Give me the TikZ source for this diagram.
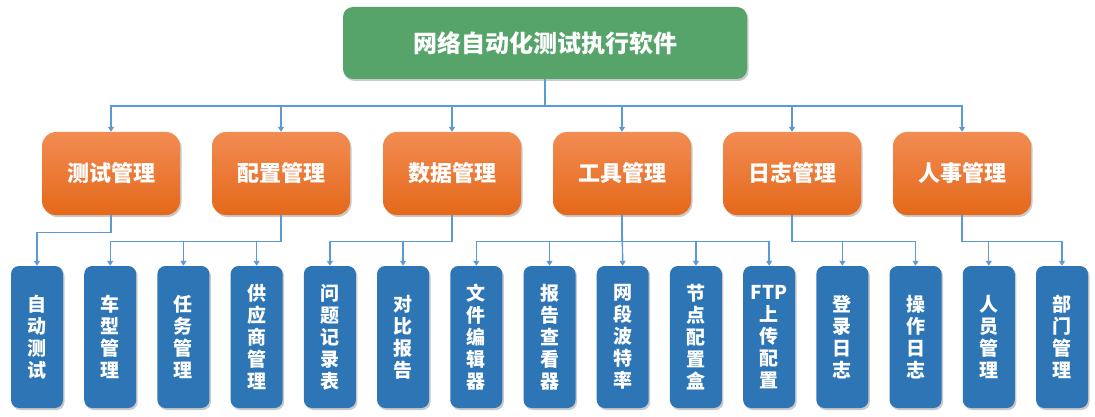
\documentclass[tikz,border=0pt]{standalone}
\usepackage{fontspec}
\newfontfamily\cjk{Noto Sans CJK SC}
\usetikzlibrary{shadows,arrows.meta}
\definecolor{topgreen}{HTML}{56A46A}
\definecolor{orangetop}{HTML}{F28C52}
\definecolor{orangebot}{HTML}{E4681A}
\definecolor{boxblue}{HTML}{2E75B6}
\definecolor{linkblue}{HTML}{5B9BD5}
\tikzset{
  shad/.style={drop shadow={opacity=0.35,shadow xshift=1.5pt,shadow yshift=-2pt,fill=black!60}},
  topbox/.style={shad,fill=topgreen,rounded corners=10pt,minimum width=404pt,minimum height=72pt,
    text=white,font=\cjk\bfseries\fontsize{24}{28}\selectfont,inner sep=0pt},
  midbox/.style={shad,top color=orangetop,bottom color=orangebot,rounded corners=14pt,
    minimum width=138pt,minimum height=83pt,text=white,font=\cjk\bfseries\fontsize{22}{26}\selectfont,inner sep=0pt},
  leafbox/.style={shad,fill=boxblue,rounded corners=8pt,minimum width=52pt,minimum height=142pt,
    text=white,align=center,font=\cjk\bfseries\fontsize{19}{22}\selectfont,inner sep=0pt},
  arr/.style={draw=linkblue,line width=1.4pt,-{Triangle[width=6pt,length=5pt]}}
}
\begin{document}
\begin{tikzpicture}[x=1pt,y=-1pt]
\useasboundingbox (0,0) rectangle (1095,417);
\node[topbox] (top) at (545,43) {网络自动化测试执行软件};
\node[midbox] (o1) at (111,173.5) {测试管理};
\node[midbox] (o2) at (281,173.5) {配置管理};
\node[midbox] (o3) at (452,173.5) {数据管理};
\node[midbox] (o4) at (622,173.5) {工具管理};
\node[midbox] (o5) at (792,173.5) {日志管理};
\node[midbox] (o6) at (962,173.5) {人事管理};
\foreach \t [count=\i from 0] in {自\\动\\测\\试,车\\型\\管\\理,任\\务\\管\\理,供\\应\\商\\管\\理,问\\题\\记\\录\\表,
  对\\比\\报\\告,文\\件\\编\\辑\\器,报\\告\\查\\看\\器,网\\段\\波\\特\\率,节\\点\\配\\置\\盒,
  FTP\\上\\传\\配\\置,登\\录\\日\\志,操\\作\\日\\志,人\\员\\管\\理,部\\门\\管\\理}
  {\pgfmathtruncatemacro{\k}{\i+1}
   \node[leafbox] (b\k) at ({37+73.214*\i},337) {\t};}
\foreach \o in {o1,o2,o3,o4,o5,o6}
  \draw[arr] (top.south) -- ++(0,27) -| (\o.north);
\draw[arr] (o1.south) -- ++(0,17) -| (b1.north);
\foreach \b in {b2,b3,b4} \draw[arr] (o2.south) -- ++(0,26) -| (\b.north);
\foreach \b in {b5,b6} \draw[arr] (o3.south) -- ++(0,26) -| (\b.north);
\foreach \b in {b7,b8,b10,b11} \draw[arr] (o4.south) -- ++(0,26) -| (\b.north);
\draw[arr] (o4.south) -- (b9.north);
\foreach \b in {b12,b13} \draw[arr] (o5.south) -- ++(0,26) -| (\b.north);
\foreach \b in {b14,b15} \draw[arr] (o6.south) -- ++(0,26) -| (\b.north);
\end{tikzpicture}
\end{document}
